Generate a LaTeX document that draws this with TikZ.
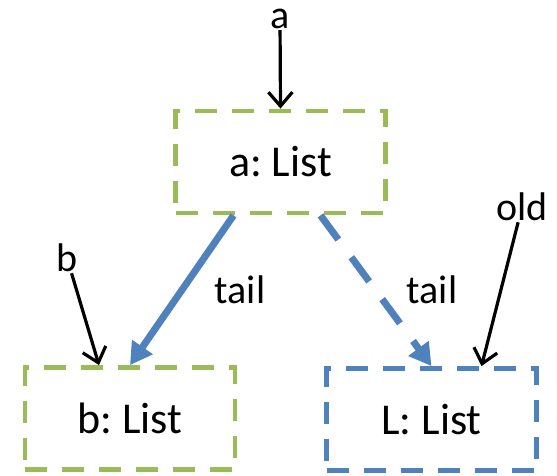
\documentclass[tikz,border=0pt]{standalone}
\usepackage{fontspec}
\setmainfont{Carlito}
\usetikzlibrary{arrows.meta}
\definecolor{boxgreen}{HTML}{9BBB59}
\definecolor{refblue}{HTML}{4F81BD}
\frenchspacing
\begin{document}
\begin{tikzpicture}[x=1pt,y=-1pt,
  objbox/.style={draw, line width=4.8pt, dash pattern=on 22pt off 15pt,
    minimum width=210pt, minimum height=102pt, inner sep=0pt,
    font=\fontsize{44}{50}\selectfont},
  greenbox/.style={objbox, draw=boxgreen},
  bluebox/.style={objbox, draw=refblue},
  varlabel/.style={inner sep=1pt, font=\fontsize{40}{46}\selectfont},
  pointer/.style={line width=3.2pt, -{Straight Barb[length=14pt,width=24pt,line width=3.2pt]}},
  tailref/.style={refblue, line width=7pt, -{Triangle[length=22pt,width=24pt]}}
]
\useasboundingbox (0,0) rectangle (557,476);

% list objects
\node[greenbox] (aa) at (280.5,162) {a: List};
\node[greenbox] (bb) at (130,418.5) {b: List};
\node[bluebox]  (ll) at (431.5,419.5) {L: List};

% variable names
\node[varlabel] (la) at (280,19) {a};
\node[varlabel] (lb) at (67,258) {b};
\node[varlabel] (lo) at (522,207) {old};

% tail field labels
\node[varlabel] (t1) at (240,290) {tail};
\node[varlabel] (t2) at (432,290) {tail};

% ends of the variable pointers on the box tops
\coordinate (pb) at ([xshift=-31pt]bb.north);
\coordinate (po) at ([xshift=50pt]ll.north);

% variable pointers
\draw[pointer] (la) -- (aa.north);
\draw[pointer] (lb) -- (pb);
\draw[pointer] (lo) -- (po);

% tail references
\draw[tailref] ([xshift=-47pt]aa.south) -- (bb.north);
\draw[tailref, dash pattern=on 30pt off 22pt] ([xshift=40pt]aa.south) -- (ll.north);
\end{tikzpicture}
\end{document}
